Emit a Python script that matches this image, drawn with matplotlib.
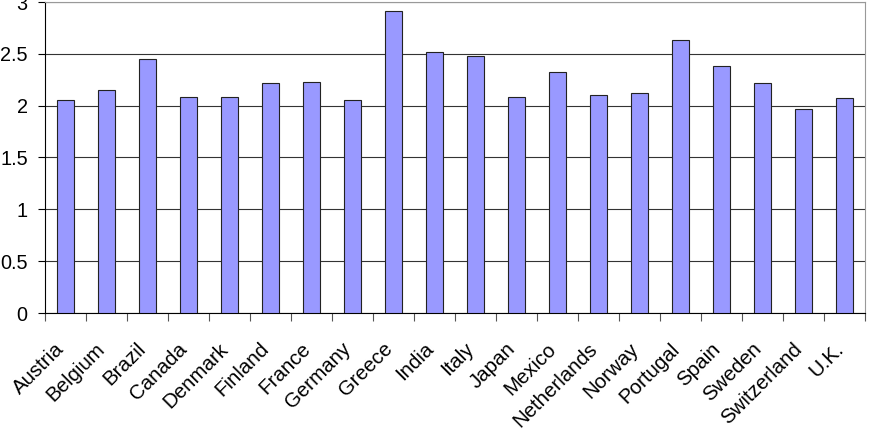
import numpy as np
import matplotlib.pyplot as plt
import matplotlib.transforms as mtransforms

countries = ['Austria', 'Belgium', 'Brazil', 'Canada', 'Denmark', 'Finland', 'France',
             'Germany', 'Greece', 'India', 'Italy', 'Japan', 'Mexico', 'Netherlands',
             'Norway', 'Portugal', 'Spain', 'Sweden', 'Switzerland', 'U.K.']
values = [2.05, 2.15, 2.45, 2.08, 2.08, 2.22, 2.23, 2.05, 2.91, 2.52,
          2.48, 2.08, 2.32, 2.10, 2.12, 2.63, 2.38, 2.22, 1.97, 2.07]
yticks = [0, 0.5, 1, 1.5, 2, 2.5, 3]
ytick_labels = ['0', '0.5', '1', '1.5', '2', '2.5', '3']

plt.rcParams['font.family'] = ['Liberation Sans', 'DejaVu Sans']

fig = plt.figure(figsize=(8.73, 4.48), dpi=100)
ax = fig.add_axes([45/873, 1-313/448, 820/873, 311/448])

x = np.arange(len(countries))
ax.bar(x, values, width=0.42, color='#9999ff', edgecolor='#222222', linewidth=0.8, zorder=3)

ax.set_xlim(-0.5, len(countries)-0.5)
ax.set_ylim(0, 3)
ax.set_yticks(yticks)
ax.set_yticklabels(ytick_labels, fontsize=14.3)
ax.yaxis.grid(True, color='#333333', linewidth=0.8, zorder=0)

# ticks between categories, labels under bars
ax.set_xticks(np.arange(len(countries)+1)-0.5)
ax.set_xticklabels([])
ax.set_xticks(x, minor=True)
ax.set_xticklabels(countries, minor=True, rotation=45, ha='right', va='top',
                   rotation_mode='anchor', fontsize=14.8)
ax.tick_params(axis='x', which='minor', length=0, pad=19)
ax.tick_params(axis='x', which='major', length=6, direction='out', color='#555555')
ax.tick_params(axis='y', length=5, direction='out', pad=7.5)

# nudge rotated labels a bit to the left
shift = mtransforms.ScaledTranslation(-0.11, 0, fig.dpi_scale_trans)
for lbl in ax.get_xticklabels(minor=True):
    lbl.set_transform(lbl.get_transform() + shift)

ax.spines['top'].set_color('#999999')
ax.spines['right'].set_color('#999999')
ax.spines['left'].set_color('black')
ax.spines['bottom'].set_color('black')

fig.patch.set_facecolor('white')
plt.savefig('out.png', dpi=100)
